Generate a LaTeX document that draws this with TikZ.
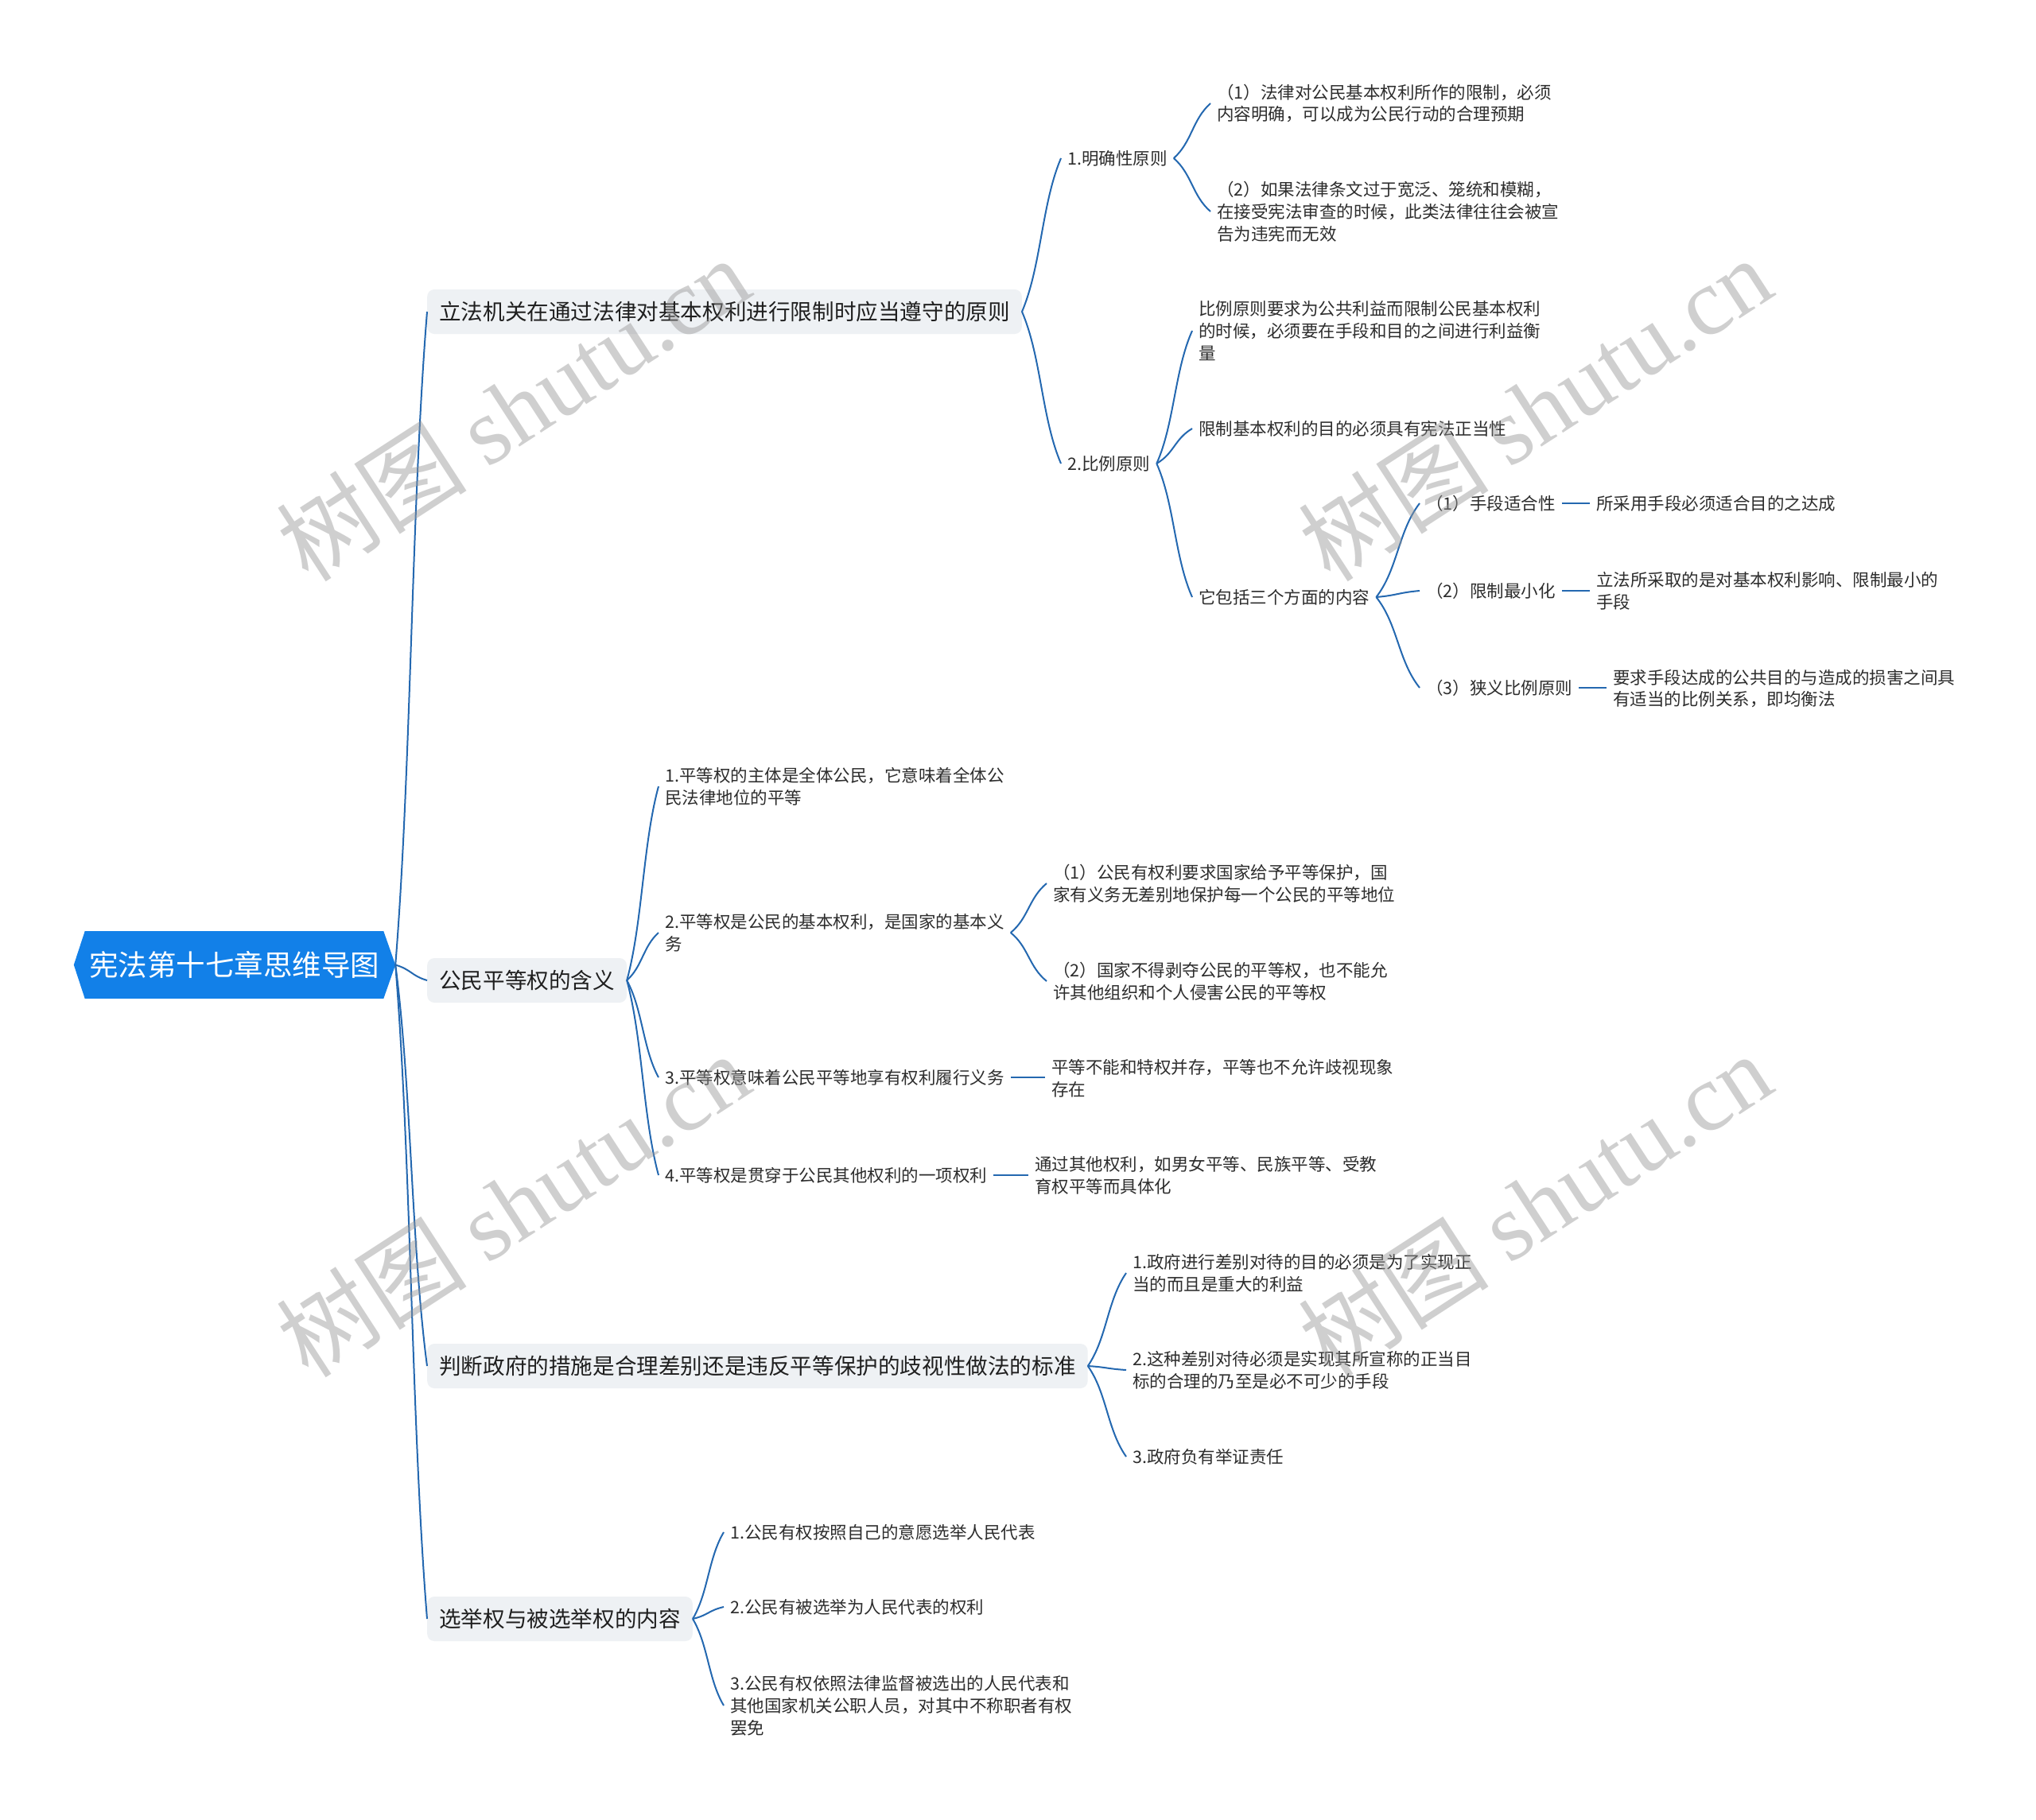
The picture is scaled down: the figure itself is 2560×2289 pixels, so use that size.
\documentclass[tikz,border=0pt]{standalone}
\usepackage{fontspec}
\setmainfont{Noto Sans CJK SC}
\newfontfamily\wmlatin{Liberation Serif}
\usetikzlibrary{calc}
\definecolor{rootblue}{RGB}{18,128,232}
\definecolor{linkblue}{RGB}{36,104,176}
\definecolor{boxgray}{RGB}{238,241,244}
\definecolor{txt}{RGB}{45,45,45}
\definecolor{wm}{RGB}{150,150,150}
\tikzset{
  rootnode/.style={fill=rootblue, text=white, minimum width=375pt, minimum height=85pt, inner sep=0pt, font=\fontsize{36.5}{40}\selectfont},
  topicbox/.style={fill=boxgray, rounded corners=9pt, anchor=west, inner xsep=15pt, inner ysep=0pt, minimum height=56pt, text=black!88, font=\fontsize{27.6}{32}\selectfont},
  leaf/.style={anchor=west, align=left, inner xsep=8pt, inner ysep=2pt, text=txt, font=\fontsize{21.5}{27.8}\selectfont},
  conn/.style={draw=linkblue, line width=2pt},
  sconn/.style={draw=linkblue, line width=2.4pt},
  wmark/.style={text=wm, opacity=0.45, rotate=33, inner sep=0pt, font=\fontsize{120}{128}\selectfont}
}
\newcommand\mmconn[2]{\draw[conn] let \p1=(#1), \p2=(#2) in (\p1) .. controls (0.5*\x1+0.5*\x2, 0.7*\y1+0.3*\y2) and (0.5*\x1+0.5*\x2, 0.3*\y1+0.7*\y2) .. (\p2);}
\begin{document}
\begin{tikzpicture}[x=1pt, y=-1pt]
\useasboundingbox (0,0) rectangle (2560,2289);
\fill[white] (0,0) rectangle (2560,2289);

% root
\node[rootnode] (root) at (294.5,1213.5) {宪法第十七章思维导图};
\coordinate (rtip) at ($(root.east)+(15,0)$);
\coordinate (ltip) at ($(root.west)+(-14,0)$);
\fill[rootblue] (root.north east) -- (rtip) -- (root.south east) -- cycle;
\fill[rootblue] (root.north west) -- (ltip) -- (root.south west) -- cycle;

% level 1
\node[topicbox] (A) at (537,392) {立法机关在通过法律对基本权利进行限制时应当遵守的原则};
\node[topicbox] (B) at (537,1233) {公民平等权的含义};
\node[topicbox] (C) at (537,1718) {判断政府的措施是合理差别还是违反平等保护的歧视性做法的标准};
\node[topicbox] (D) at (537,2036) {选举权与被选举权的内容};

% branch A
\node[leaf] (a1) at (1334,199) {1.明确性原则};
\node[leaf] (a2) at (1334,583) {2.比例原则};
\node[leaf] (a11) at (1522,130) {（1）法律对公民基本权利所作的限制，必须\\内容明确，可以成为公民行动的合理预期};
\node[leaf] (a12) at (1522,266) {（2）如果法律条文过于宽泛、笼统和模糊，\\在接受宪法审查的时候，此类法律往往会被宣\\告为违宪而无效};
\node[leaf] (a21) at (1499,416) {比例原则要求为公共利益而限制公民基本权利\\的时候，必须要在手段和目的之间进行利益衡\\量};
\node[leaf] (a22) at (1499,539) {限制基本权利的目的必须具有宪法正当性};
\node[leaf] (a23) at (1499,751) {它包括三个方面的内容};
\node[leaf] (a231) at (1785,633) {（1）手段适合性};
\node[leaf] (a231c) at (1999,633) {所采用手段必须适合目的之达成};
\node[leaf] (a232) at (1785,743) {（2）限制最小化};
\node[leaf] (a232c) at (1999,743) {立法所采取的是对基本权利影响、限制最小的\\手段};
\node[leaf] (a233) at (1785,865) {（3）狭义比例原则};
\node[leaf] (a233c) at (2020,866) {要求手段达成的公共目的与造成的损害之间具\\有适当的比例关系，即均衡法};

% branch B
\node[leaf] (b1) at (828,989) {1.平等权的主体是全体公民，它意味着全体公\\民法律地位的平等};
\node[leaf] (b2) at (828,1173) {2.平等权是公民的基本权利，是国家的基本义\\务};
\node[leaf] (b3) at (828,1355) {3.平等权意味着公民平等地享有权利履行义务};
\node[leaf] (b3c) at (1314,1356) {平等不能和特权并存，平等也不允许歧视现象\\存在};
\node[leaf] (b4) at (828,1478) {4.平等权是贯穿于公民其他权利的一项权利};
\node[leaf] (b4c) at (1293,1478) {通过其他权利，如男女平等、民族平等、受教\\育权平等而具体化};
\node[leaf] (b21) at (1316,1111) {（1）公民有权利要求国家给予平等保护，国\\家有义务无差别地保护每一个公民的平等地位};
\node[leaf] (b22) at (1316,1234) {（2）国家不得剥夺公民的平等权，也不能允\\许其他组织和个人侵害公民的平等权};

% branch C
\node[leaf] (c1) at (1416,1601) {1.政府进行差别对待的目的必须是为了实现正\\当的而且是重大的利益};
\node[leaf] (c2) at (1416,1723) {2.这种差别对待必须是实现其所宣称的正当目\\标的合理的乃至是必不可少的手段};
\node[leaf] (c3) at (1416,1832) {3.政府负有举证责任};

% branch D
\node[leaf] (d1) at (910,1927) {1.公民有权按照自己的意愿选举人民代表};
\node[leaf] (d2) at (910,2021) {2.公民有被选举为人民代表的权利};
\node[leaf] (d3) at (910,2145) {3.公民有权依照法律监督被选出的人民代表和\\其他国家机关公职人员，对其中不称职者有权\\罢免};

% connectors
\mmconn{rtip}{A.west}
\mmconn{rtip}{B.west}
\mmconn{rtip}{C.west}
\mmconn{rtip}{D.west}

\mmconn{A.east}{a1.west}
\mmconn{A.east}{a2.west}
\mmconn{a1.east}{a11.west}
\mmconn{a1.east}{a12.west}
\mmconn{a2.east}{a21.west}
\mmconn{a2.east}{a22.west}
\mmconn{a2.east}{a23.west}
\mmconn{a23.east}{a231.west}
\mmconn{a23.east}{a232.west}
\mmconn{a23.east}{a233.west}
\draw[sconn] (a231.east) -- (a231.east -| a231c.west);
\draw[sconn] (a232.east) -- (a232.east -| a232c.west);
\draw[sconn] (a233.east) -- (a233.east -| a233c.west);

\mmconn{B.east}{b1.west}
\mmconn{B.east}{b2.west}
\mmconn{B.east}{b3.west}
\mmconn{B.east}{b4.west}
\mmconn{b2.east}{b21.west}
\mmconn{b2.east}{b22.west}
\draw[sconn] (b3.east) -- (b3.east -| b3c.west);
\draw[sconn] (b4.east) -- (b4.east -| b4c.west);

\mmconn{C.east}{c1.west}
\mmconn{C.east}{c2.west}
\mmconn{C.east}{c3.west}

\mmconn{D.east}{d1.west}
\mmconn{D.east}{d2.west}
\mmconn{D.east}{d3.west}

% watermarks
\node[wmark] (w1) at (645,514) {树图 {\wmlatin shutu.cn}};
\node[wmark] (w2) at (1930,514) {树图 {\wmlatin shutu.cn}};
\node[wmark] (w3) at (645,1515) {树图 {\wmlatin shutu.cn}};
\node[wmark] (w4) at (1930,1515) {树图 {\wmlatin shutu.cn}};
\end{tikzpicture}
\end{document}
